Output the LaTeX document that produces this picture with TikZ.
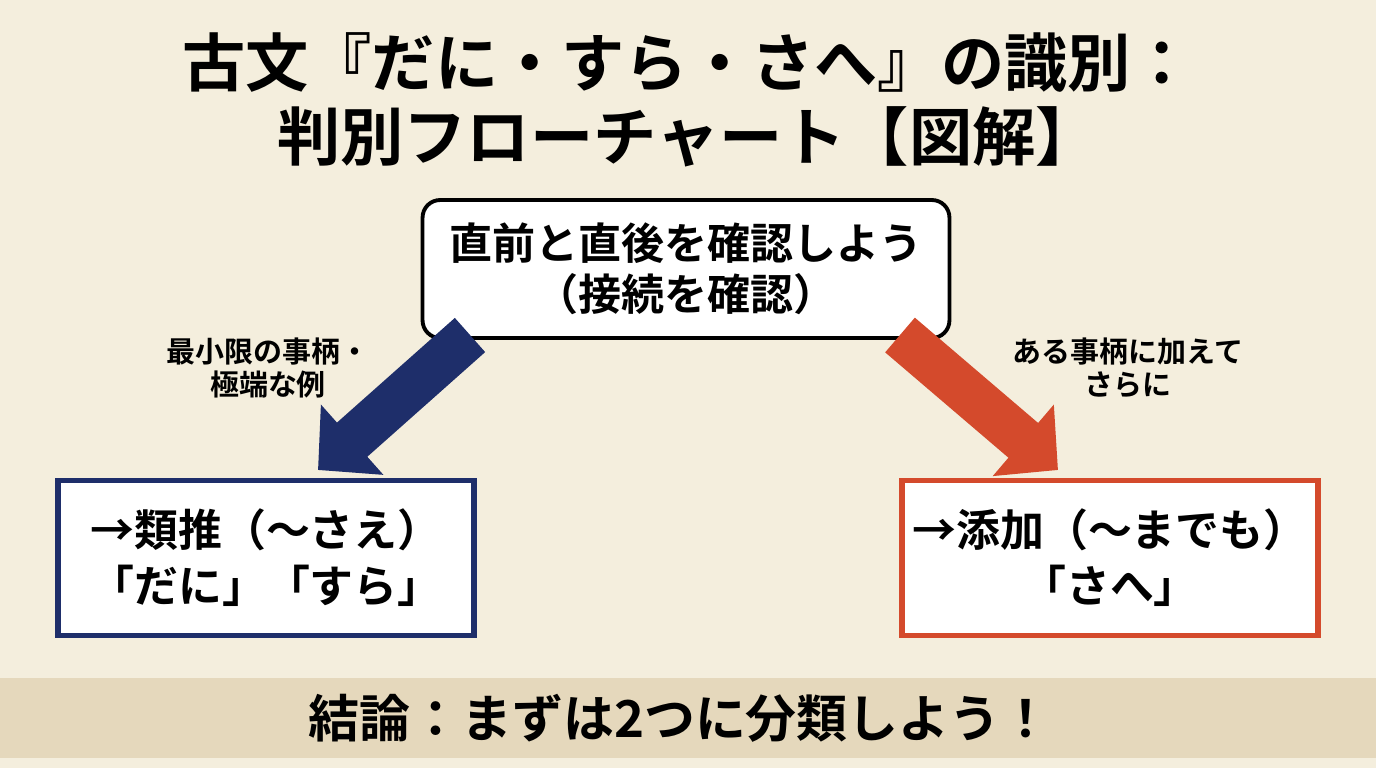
\documentclass[tikz,border=0pt]{standalone}
\usepackage{fontspec}
\setmainfont{Noto Sans CJK JP}[BoldFont={Noto Sans CJK JP Bold}]
\usetikzlibrary{arrows.meta}
\definecolor{paper}{HTML}{F4EEDD}
\definecolor{band}{HTML}{E5D8BC}
\definecolor{navy}{HTML}{1E2E6A}
\definecolor{rust}{HTML}{D44A2C}
\tikzset{
  mainbox/.style={draw=black,line width=2.2pt,rounded corners=10pt,fill=white,
    minimum width=10.54cm,minimum height=2.76cm,align=center,font=\bfseries\fontsize{24.5}{29}\selectfont},
  resultbox/.style={line width=3pt,fill=white,minimum width=8.32cm,minimum height=3.1cm,
    align=center,font=\bfseries\fontsize{25}{32}\selectfont},
  bigarrow/.style={line width=26pt,-{Triangle[width=52pt,length=26pt]}},
  cue/.style={align=center,font=\bfseries\fontsize{16.5}{19}\selectfont}
}
\begin{document}
\begin{tikzpicture}[x=0.02cm,y=-0.02cm]
% background
\fill[paper] (0,0) rectangle (1376,768);
\useasboundingbox (0,0) rectangle (1376,768);
\fill[band] (0,678) rectangle (1376,758);
% title
\node[align=center,font=\bfseries\fontsize{36}{42}\selectfont] (title) at (688,100)
  {古文『だに・すら・さへ』の識別：\\判別フローチャート【図解】};
% boxes
\node[mainbox] (check) at (686,269) {直前と直後を確認しよう\\（接続を確認）};
\node[resultbox,draw=navy] (ruisui) at (266,558) {→類推（～さえ）\\「だに」「すら」};
\node[resultbox,draw=rust] (tenka) at (1110,558) {→添加（～までも）\\「さへ」};
% arrows
\coordinate (lstart) at (470,335);
\coordinate (lend) at (318,470);
\coordinate (rstart) at (900,335);
\coordinate (rend) at (1058,470);
\draw[bigarrow,navy] (lstart) -- (lend);
\draw[bigarrow,rust] (rstart) -- (rend);
% cues
\node[cue] (lcue) at (268,368) {最小限の事柄・\\極端な例};
\node[cue] (rcue) at (1128,368) {ある事柄に加えて\\さらに};
% conclusion
\node[font=\bfseries\fontsize{29}{34}\selectfont] (concl) at (680,718) {結論：まずは2つに分類しよう！};
\end{tikzpicture}
\end{document}
